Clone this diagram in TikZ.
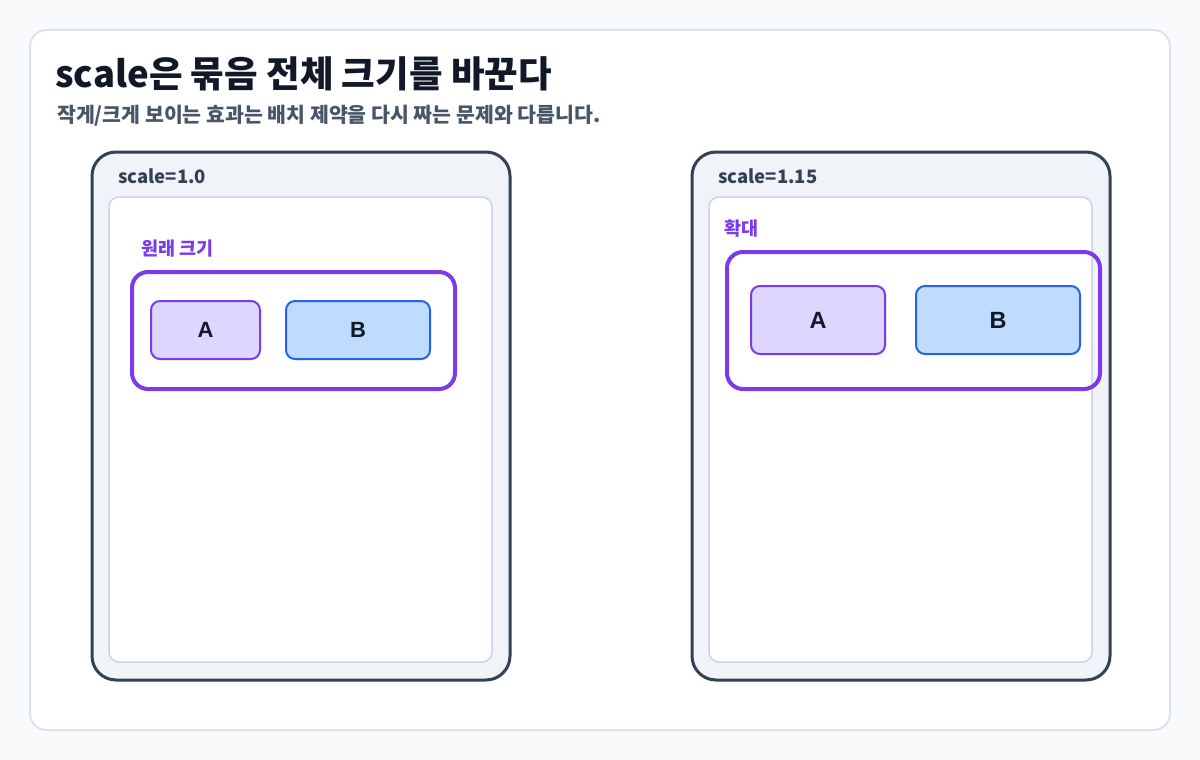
\documentclass[tikz,border=0pt]{standalone}
\usepackage{fontspec}
\setmainfont{Noto Sans CJK KR}
\newfontfamily\boxfont{Liberation Sans}
\usetikzlibrary{positioning}

\definecolor{pagebg}{HTML}{F8FAFC}
\definecolor{cardline}{HTML}{DCE3EE}
\definecolor{ink}{HTML}{111827}
\definecolor{subink}{HTML}{475569}
\definecolor{panelline}{HTML}{334155}
\definecolor{panelfill}{HTML}{F0F4F9}
\definecolor{innerline}{HTML}{CBD5E1}
\definecolor{grpline}{HTML}{7C3AED}
\definecolor{afill}{HTML}{DDD6FE}
\definecolor{bfill}{HTML}{BFDBFE}
\definecolor{bline}{HTML}{2563EB}

\begin{document}
\begin{tikzpicture}[x=1pt, y=-1pt, font=\bfseries,
    panel/.style={draw=panelline, line width=3pt, fill=panelfill, rounded corners=24pt, minimum width=418pt, minimum height=528pt},
    inner/.style={draw=innerline, line width=1.5pt, fill=white, rounded corners=10pt, minimum width=383pt, minimum height=465pt},
    group/.style={draw=grpline, line width=4pt, rounded corners=16pt},
    boxa/.style={draw=grpline, line width=2pt, fill=afill, rounded corners=9pt, text=ink},
    boxb/.style={draw=bline, line width=2pt, fill=bfill, rounded corners=9pt, text=ink},
    paneltitle/.style={anchor=west, text=panelline, font=\fontsize{18.5}{20}\selectfont\bfseries},
    grouptitle/.style={anchor=west, text=grpline, font=\fontsize{18.5}{20}\selectfont\bfseries}]

% page and card
\fill[pagebg] (0,0) rectangle (1200,760);
\draw[cardline, line width=2pt, fill=white, rounded corners=16pt] (30,30) rectangle (1170,730);

% heading
\node[anchor=west, text=ink, font=\fontsize{36.5}{40}\selectfont\bfseries, inner sep=0pt] (title) at (55,74) {scale은 묶음 전체 크기를 바꾼다};
\node[anchor=west, text=subink, font=\fontsize{20.5}{23}\selectfont\bfseries, inner sep=0pt] (subtitle) at (57,116) {작게/크게 보이는 효과는 배치 제약을 다시 짜는 문제와 다릅니다.};

% left panel, scale=1.0

\node[panel] (leftpanel) at (301,416) {};
\node[paneltitle, inner sep=0pt] (leftlabel) at (118,176) {scale=1.0};
\node[inner] (leftinner) at (300.5,429.5) {};
\node[grouptitle, inner sep=0pt] (leftgrouplabel) at (141,249) {원래 크기};
\node[group, minimum width=323pt, minimum height=117pt] (leftgroup) at (293.5,330.5) {};
\node[boxa, minimum width=109pt, minimum height=58pt, font=\fontsize{22}{24}\selectfont\boxfont\bfseries] (lefta) at (205.5,330) {A};
\node[boxb, minimum width=144pt, minimum height=58pt, font=\fontsize{22}{24}\selectfont\boxfont\bfseries, right=24pt of lefta] (leftb) {B};

% right panel, scale=1.15

\node[panel] (rightpanel) at (901,416) {};
\node[paneltitle, inner sep=0pt] (rightlabel) at (718,176) {scale=1.15};
\node[inner] (rightinner) at (900.5,429.5) {};
\node[grouptitle, inner sep=0pt] (rightgrouplabel) at (724,229) {확대};
\node[group, minimum width=373pt, minimum height=137pt] (rightgroup) at (913.5,320.5) {};
\node[boxa, minimum width=134pt, minimum height=68pt, font=\fontsize{23.5}{25}\selectfont\boxfont\bfseries] (righta) at (818,320) {A};
\node[boxb, minimum width=164pt, minimum height=68pt, font=\fontsize{23.5}{25}\selectfont\boxfont\bfseries, right=29pt of righta] (rightb) {B};

\end{tikzpicture}
\end{document}
